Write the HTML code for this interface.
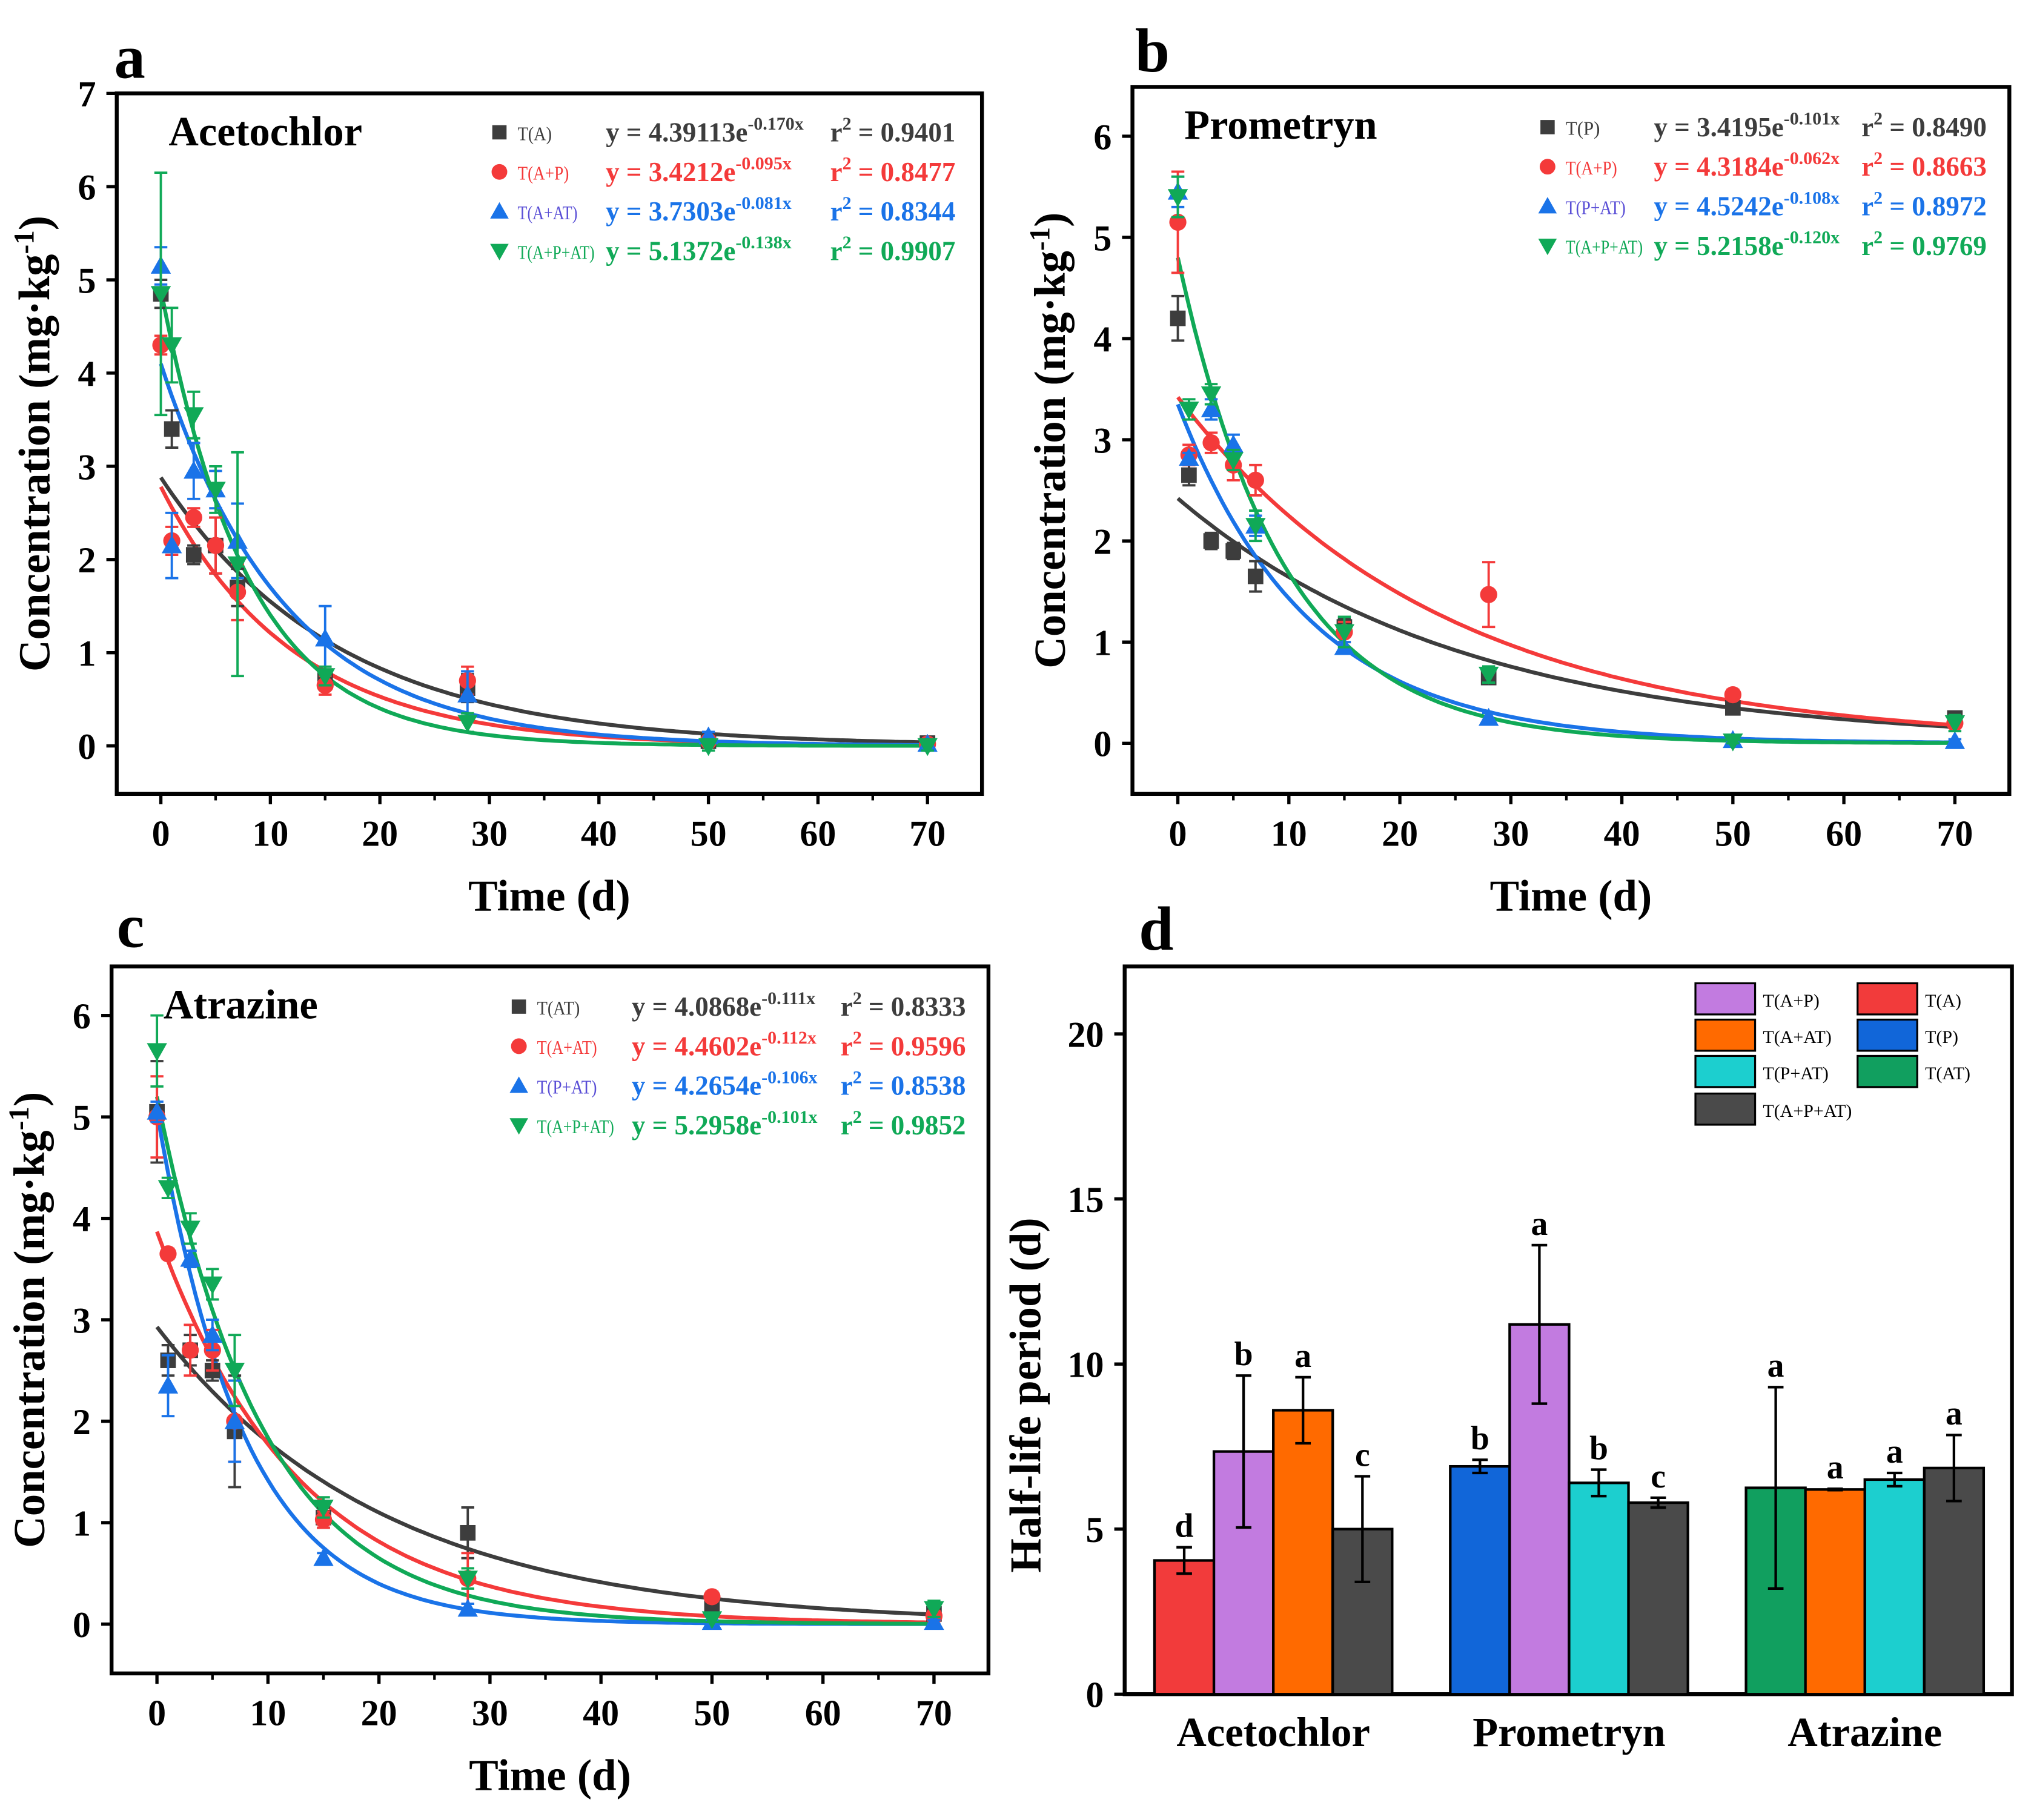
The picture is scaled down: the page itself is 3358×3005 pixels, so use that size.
<!DOCTYPE html>
<html><head><meta charset="utf-8">
<style>html,body{margin:0;padding:0;background:#fff}svg{display:block}
text{font-family:"Liberation Serif",serif;font-weight:bold}</style></head>
<body>
<svg id="fig" width="3358" height="3005" viewBox="0 0 1568 1403" preserveAspectRatio="none" xmlns="http://www.w3.org/2000/svg"></svg>
<script>
// ---- shared data ----
const times = [0,1,3,5,7,15,28,50,70];
const seriesColors = ['#3d3d3d','#f43a3a','#1a73e8','#10a957'];
const markerShapes = ['square','circle','up','down'];
// Panel a (Acetochlor)
const aBlack = [4.85,3.4,2.05,2.15,1.7,0.75,0.62,0.05,0.03];
const aRed   = [4.3,2.2,2.45,2.15,1.65,0.65,0.7,0.05,0.02];
const aBlue  = [5.15,2.15,2.95,2.75,2.2,1.15,0.55,0.1,0.02];
const aGreen = [4.85,4.3,3.55,2.75,1.95,0.75,0.25,0.0,0.0];
const aErr   = [[0.15,0.2,0.1,0.3,0.2,0.1,0.15,0.05,0.05],[0.1,0.15,0.1,0.3,0.3,0.1,0.15,0.05,0.05],[0.2,0.35,0.3,0.2,0.4,0.35,0.25,0.05,0.05],[1.3,0.4,0.25,0.25,1.2,0.1,0.1,0.05,0.05]];
const aFitA = [2.88,2.78,4.1,4.9];
const aFitK = [0.062,0.083,0.088,0.125];
// Panel b (Prometryn)
const bBlack = [4.2,2.65,2.0,1.9,1.65,1.15,0.65,0.35,0.25];
const bRed   = [5.15,2.85,2.97,2.75,2.6,1.1,1.47,0.48,0.2];
const bBlue  = [5.45,2.82,3.3,2.95,2.15,0.95,0.25,0.03,0.02];
const bGreen = [5.4,3.3,3.45,2.8,2.15,1.1,0.68,0.02,0.2];
const bErr   = [[0.22,0.1,0.08,0.08,0.15,0.08,0.05,0.05,0.05],[0.5,0.1,0.1,0.15,0.15,0.1,0.32,0.05,0.05],[0.15,0.05,0.1,0.1,0.1,0.05,0.05,0.02,0.02],[0.2,0.1,0.1,0.1,0.15,0.15,0.08,0.02,0.08]];
const bFitA = [2.42,3.42,3.35,4.8];
const bFitK = [0.0387,0.042,0.085,0.105];
// Panel c (Atrazine)
const cBlack = [5.05,2.6,2.7,2.5,1.9,1.05,0.9,0.2,0.1];
const cRed   = [5.0,3.65,2.7,2.7,2.0,1.03,0.45,0.27,0.08];
const cBlue  = [5.05,2.35,3.6,2.85,2.0,0.65,0.15,0.02,0.02];
const cGreen = [5.65,4.3,3.9,3.35,2.5,1.15,0.45,0.05,0.15];
const cErr   = [[0.5,0.15,0.15,0.1,0.55,0.1,0.25,0.05,0.05],[0.4,0.05,0.25,0.2,0.4,0.08,0.25,0.05,0.05],[0.1,0.3,0.08,0.15,0.4,0.05,0.05,0.02,0.02],[0.35,0.1,0.15,0.15,0.35,0.1,0.1,0.03,0.08]];
const cFitA = [2.93,3.87,5.05,5.2];
const cFitK = [0.049,0.078,0.127,0.104];
// Panel d bars
const dGroups = ['Acetochlor','Prometryn','Atrazine'];
const dValues = [[4.05,7.35,8.6,5.0],[6.9,11.2,6.4,5.8],[6.25,6.2,6.5,6.85]];
const dErrors = [[0.4,2.3,1.0,1.6],[0.2,2.4,0.4,0.15],[3.05,0.02,0.2,1.0]];
const dLetters = [['d','b','a','c'],['b','a','b','c'],['a','a','a','a']];
const dColors = [['#f23b3b','#c27be0','#ff6a00','#4a4a4a'],['#1166d9','#c27be0','#1ccfcf','#4a4a4a'],['#119f5f','#ff6a00','#1ccfcf','#4a4a4a']];

const NS='http://www.w3.org/2000/svg';
const svg=document.getElementById('fig');
function mk(tag,attrs,parent,txt){const e=document.createElementNS(NS,tag);for(const k in attrs)e.setAttribute(k,attrs[k]);if(txt!==undefined)e.textContent=txt;(parent||svg).appendChild(e);return e;}

function marker(g,shape,x,y,c,s){
  let e;
  if(shape==='square')e=mk('rect',{x:x-s,y:y-s,width:2*s,height:2*s,fill:c},g);
  else if(shape==='circle')e=mk('circle',{cx:x,cy:y,r:s*1.1,fill:c},g);
  else if(shape==='up')e=mk('polygon',{points:`${x},${y-s*1.3} ${x-s*1.3},${y+s} ${x+s*1.3},${y+s}`,fill:c},g);
  else e=mk('polygon',{points:`${x},${y+s*1.3} ${x-s*1.3},${y-s} ${x+s*1.3},${y-s}`,fill:c},g);
  return e;
}

function scatterPanel(cfg){
  const g=mk('g',{});
  
  
  const X=v=>cfg.x0+(v-0)*(cfg.x70-cfg.x0)/70;
  const Y=v=>cfg.y0-v*cfg.yu;
  const fr=mk('rect',{x:cfg.L,y:cfg.T,width:cfg.R-cfg.L,height:cfg.B-cfg.T,fill:'none',stroke:'#000','stroke-width':3},g);
  
  for(let t=0;t<=70;t+=10){
    mk('line',{x1:X(t),x2:X(t),y1:cfg.B,y2:cfg.B+8,stroke:'#000','stroke-width':2.5},g);
    const tl=mk('text',{x:X(t),y:cfg.B+40,'font-size':28,'text-anchor':'middle'},g,String(t));
    
  }
  for(let t=5;t<70;t+=10) mk('line',{x1:X(t),x2:X(t),y1:cfg.B,y2:cfg.B+5,stroke:'#000','stroke-width':2},g);
  for(let v=0;v<=cfg.ymax;v++){
    mk('line',{x1:cfg.L-8,x2:cfg.L,y1:Y(v),y2:Y(v),stroke:'#000','stroke-width':2.5},g);
    const tl=mk('text',{x:cfg.L-16,y:Y(v)+10,'font-size':28,'text-anchor':'end'},g,String(v));
    
  }
  const xt=mk('text',{x:(cfg.L+cfg.R)/2,y:cfg.B+90,'font-size':34,'text-anchor':'middle'},g,'Time (d)');
  
  const yc=(cfg.T+cfg.B)/2;
  const yt=mk('text',{x:cfg.L-52,y:yc,'font-size':34,'text-anchor':'middle',transform:`rotate(-90 ${cfg.L-52} ${yc})`},g);
  
  yt.innerHTML='Concentration (mg·kg<tspan dy="-12" font-size="22">-1</tspan><tspan dy="12">)</tspan>';
  const pl=mk('text',{x:cfg.letterX,y:cfg.letterY,'font-size':48},g,cfg.letter);
  
  const ti=mk('text',{x:cfg.L+40,y:cfg.T+40,'font-size':32},g,cfg.title);
  
  for(let s=0;s<4;s++){
    let d='';
    for(let t=0;t<=70;t+=0.5){d+=(t?'L':'M')+X(t).toFixed(1)+','+Y(cfg.fitA[s]*Math.exp(-cfg.fitK[s]*t)).toFixed(1);}
    const p=mk('path',{d:d,fill:'none',stroke:seriesColors[s],'stroke-width':3},g);
    
  }
  for(let s=0;s<4;s++){
    const vals=cfg.series[s];
    for(let i=0;i<times.length;i++){
      const x=X(times[i]),y=Y(vals[i]),e=cfg.err[s][i];
      const eb=mk('path',{d:`M${x},${Y(vals[i]-e)}V${Y(vals[i]+e)}M${x-5},${Y(vals[i]+e)}h10M${x-5},${Y(vals[i]-e)}h10`,stroke:seriesColors[s],'stroke-width':1.8,fill:'none'},g);
      
      const m=marker(g,markerShapes[s],x,y,seriesColors[s],6);
      
    }
  }
  const lg=mk('g',{},g);
  
  for(let s=0;s<4;s++){
    const y=cfg.legY+s*cfg.legDy;
    const c=seriesColors[s];
    marker(lg,markerShapes[s],cfg.legX,y-6,c,5.5);
    const lw=cfg.labels[s].length*6.6;
    const lab=mk('text',{x:cfg.legX+14,y:y,'font-size':15,fill:s===2?'#5a4fd6':c,style:'font-weight:normal',textLength:lw,lengthAdjust:'spacingAndGlyphs'},lg,cfg.labels[s]);
    
    const eq=mk('text',{x:cfg.eqX,y:y+1,'font-size':21,fill:c},lg);
    eq.innerHTML=`y = ${cfg.eqs[s][0]}e<tspan dy="-9" font-size="14">${cfg.eqs[s][1]}</tspan>`;
    
    const r=mk('text',{x:cfg.rX,y:y+1,'font-size':21,fill:c},lg);
    r.innerHTML=`r<tspan dy="-9" font-size="14">2</tspan><tspan dy="9"> = ${cfg.eqs[s][2]}</tspan>`;
    
  }
}

scatterPanel({name:'panel-a-acetochlor',L:90,R:757,T:72,B:612,x0:124,x70:715,y0:575,yu:71.85,ymax:7,
  letter:'a',letterX:88,letterY:60,title:'Acetochlor',series:[aBlack,aRed,aBlue,aGreen],err:aErr,fitA:aFitA,fitK:aFitK,
  legX:385,legY:108,legDy:30.5,eqX:467,rX:640,labels:['T(A)','T(A+P)','T(A+AT)','T(A+P+AT)'],
  eqs:[['4.39113','-0.170x','0.9401'],['3.4212','-0.095x','0.8477'],['3.7303','-0.081x','0.8344'],['5.1372','-0.138x','0.9907']]});
scatterPanel({name:'panel-b-prometryn',L:873,R:1549,T:67,B:612,x0:908,x70:1507,y0:573,yu:78,ymax:6,
  letter:'b',letterX:875,letterY:55,title:'Prometryn',series:[bBlack,bRed,bBlue,bGreen],err:bErr,fitA:bFitA,fitK:bFitK,
  legX:1193,legY:104,legDy:30.5,eqX:1275,rX:1435,labels:['T(P)','T(A+P)','T(P+AT)','T(A+P+AT)'],
  eqs:[['3.4195','-0.101x','0.8490'],['4.3184','-0.062x','0.8663'],['4.5242','-0.108x','0.8972'],['5.2158','-0.120x','0.9769']]});
scatterPanel({name:'panel-c-atrazine',L:86,R:762,T:745,B:1290,x0:121,x70:720,y0:1252,yu:78.2,ymax:6,
  letter:'c',letterX:90,letterY:730,title:'Atrazine',series:[cBlack,cRed,cBlue,cGreen],err:cErr,fitA:cFitA,fitK:cFitK,
  legX:400,legY:782,legDy:30.5,eqX:487,rX:648,labels:['T(AT)','T(A+AT)','T(P+AT)','T(A+P+AT)'],
  eqs:[['4.0868','-0.111x','0.8333'],['4.4602','-0.112x','0.9596'],['4.2654','-0.106x','0.8538'],['5.2958','-0.101x','0.9852']]});

// ---- panel d ----
(function(){
  const L=867,R=1551,T=745,B=1306;
  const g=mk('g',{});
  
  
  const Y=v=>B-v*25.45;
  const fr=mk('rect',{x:L,y:T,width:R-L,height:B-T,fill:'none',stroke:'#000','stroke-width':3},g);
  
  for(let v=0;v<=20;v+=5){
    mk('line',{x1:L-8,x2:L,y1:Y(v),y2:Y(v),stroke:'#000','stroke-width':2.5},g);
    const tl=mk('text',{x:L-16,y:Y(v)+10,'font-size':28,'text-anchor':'end'},g,String(v));
    
  }
  const yc=(T+B)/2;
  const yt=mk('text',{x:L-65,y:yc+50,'font-size':34,'text-anchor':'middle',transform:`rotate(-90 ${L-65} ${yc+50})`},g,'Half-life period (d)');
  
  const pl=mk('text',{x:878,y:732,'font-size':48},g,'d');
  
  const bw=45.8, gx=[890,1118,1346];
  for(let gi=0;gi<3;gi++){
    for(let b=0;b<4;b++){
      const x=gx[gi]+b*bw,v=dValues[gi][b],e=dErrors[gi][b];
      const r=mk('rect',{x:x,y:Y(v),width:bw,height:B-Y(v),fill:dColors[gi][b],stroke:'#000','stroke-width':2},g);
      
      const cx=x+bw/2;
      const eb=mk('path',{d:`M${cx},${Y(v-e)}V${Y(v+e)}M${cx-6},${Y(v+e)}h12M${cx-6},${Y(v-e)}h12`,stroke:'#000','stroke-width':2,fill:'none'},g);
      
      const lt=mk('text',{x:cx,y:Y(v+e)-8,'font-size':26,'text-anchor':'middle'},g,dLetters[gi][b]);
      
    }
    const gl=mk('text',{x:gx[gi]+2*bw,y:B+40,'font-size':32,'text-anchor':'middle'},g,dGroups[gi]);
    
  }
  const leg=[['#c27be0','T(A+P)',1307,758],['#ff6a00','T(A+AT)',1307,786],['#1ccfcf','T(P+AT)',1307,814],['#4a4a4a','T(A+P+AT)',1307,843],
             ['#f23b3b','T(A)',1432,758],['#1166d9','T(P)',1432,786],['#119f5f','T(AT)',1432,814]];
  const lg=mk('g',{},g);
  
  leg.forEach(l=>{
    mk('rect',{x:l[2],y:l[3],width:46,height:24,fill:l[0],stroke:'#000','stroke-width':1.5},lg);
    const t=mk('text',{x:l[2]+52,y:l[3]+18,'font-size':14,style:'font-weight:normal'},lg,l[1]);
    
  });
})();
</script>
</body></html>
